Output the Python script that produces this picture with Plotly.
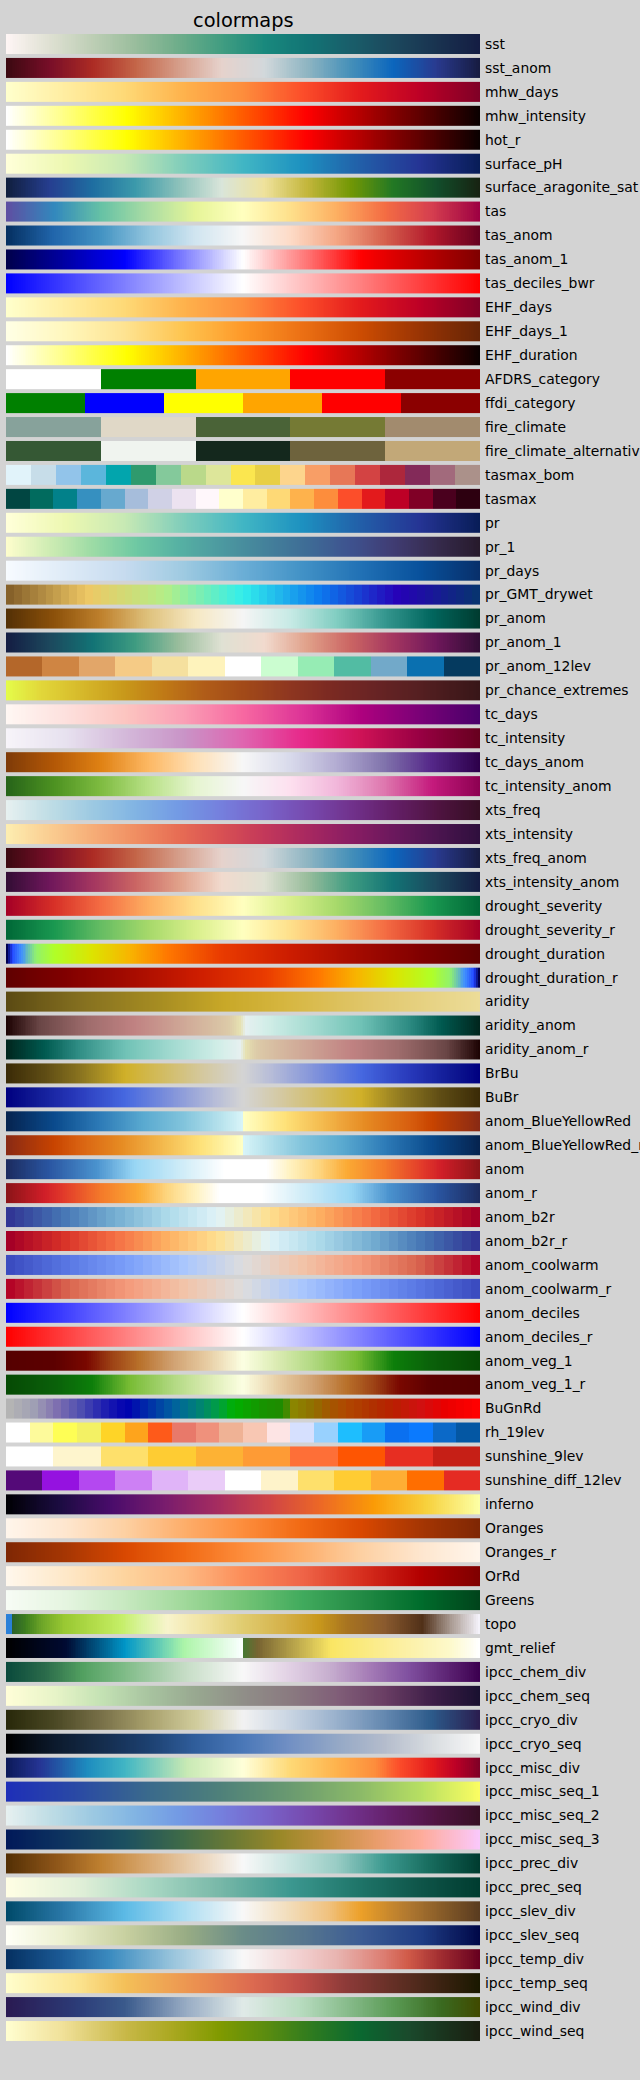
import numpy as np
import plotly.graph_objects as go

# ---------------- data ----------------
names = ["sst", "sst_anom", "mhw_days", "mhw_intensity", "hot_r", "surface_pH",
         "surface_aragonite_sat", "tas", "tas_anom", "tas_anom_1", "tas_deciles_bwr",
         "EHF_days", "EHF_days_1", "EHF_duration", "AFDRS_category", "ffdi_category",
         "fire_climate", "fire_climate_alternative", "tasmax_bom", "tasmax", "pr", "pr_1",
         "pr_days", "pr_GMT_drywet", "pr_anom", "pr_anom_1", "pr_anom_12lev",
         "pr_chance_extremes", "tc_days", "tc_intensity", "tc_days_anom", "tc_intensity_anom",
         "xts_freq", "xts_intensity", "xts_freq_anom", "xts_intensity_anom",
         "drought_severity", "drought_severity_r", "drought_duration", "drought_duration_r",
         "aridity", "aridity_anom", "aridity_anom_r", "BrBu", "BuBr", "anom_BlueYellowRed",
         "anom_BlueYellowRed_r", "anom", "anom_r", "anom_b2r", "anom_b2r_r", "anom_coolwarm",
         "anom_coolwarm_r", "anom_deciles", "anom_deciles_r", "anom_veg_1", "anom_veg_1_r",
         "BuGnRd", "rh_19lev", "sunshine_9lev", "sunshine_diff_12lev", "inferno", "Oranges",
         "Oranges_r", "OrRd", "Greens", "topo", "gmt_relief", "ipcc_chem_div", "ipcc_chem_seq",
         "ipcc_cryo_div", "ipcc_cryo_seq", "ipcc_misc_div", "ipcc_misc_seq_1", "ipcc_misc_seq_2",
         "ipcc_misc_seq_3", "ipcc_prec_div", "ipcc_prec_seq", "ipcc_slev_div", "ipcc_slev_seq",
         "ipcc_temp_div", "ipcc_temp_seq", "ipcc_wind_div", "ipcc_wind_seq"]

hot_r = [[0, '#ffffff'], [0.254, '#ffff00'], [0.635, '#ff0000'], [1, '#0b0000']]
seismic = [[0, '#00004c'], [0.25, '#0000ff'], [0.5, '#ffffff'], [0.75, '#ff0000'], [1, '#800000']]
bwr = [[0, '#0000ff'], [0.5, '#ffffff'], [1, '#ff0000']]
coolwarm = [[0, '#3b4cc0'], [0.125, '#5a78e4'], [0.25, '#7b9ff9'], [0.375, '#aac7fd'],
            [0.5, '#dddddd'], [0.625, '#f2c4a9'], [0.75, '#f49a7b'], [0.875, '#d9664f'],
            [1, '#b40426']]
rdylbu10 = ['#313695', '#4575b4', '#74add1', '#abd9e9', '#e0f3f8',
            '#fee090', '#fdae61', '#f46d43', '#d73027', '#a50026']

AFDRS_category = ['#ffffff', '#008000', '#ffa500', '#ff0000', '#8b0000']
ffdi_category = ['#008000', '#0000ff', '#ffff00', '#ffa500', '#ff0000', '#8b0000']
fire_climate = ['#87a29b', '#e0d8c7', '#4a6337', '#757a34', '#a28b6e']
fire_climate_alternative = ['#355834', '#f0f4ef', '#14281d', '#6e633d', '#c2a878']
tasmax_bom = ['#e1f3fa', '#c7dde9', '#92c4ea', '#5bb6dc', '#02a5ad', '#2f9a6d', '#84c99b',
              '#bad98a', '#dde69a', '#fbe64f', '#e8cf45', '#fdd58d', '#f89e66', '#e77757',
              '#d34343', '#ad273c', '#832a59', '#a26a7c', '#ab918a']
tasmax = ['#014642', '#016b5e', '#02818a', '#3690c0', '#67a9cf', '#a6bddb', '#d0d1e6',
          '#ece2f0', '#fff7fb', '#ffffcc', '#ffeda0', '#fed976', '#feb24c', '#fd8d3c',
          '#fc4e2a', '#e31a1c', '#bd0026', '#800026', '#4a001e', '#2d0010']
pr_GMT_drywet = [[0, '#86612a'], [1/6, '#eec764'], [2/6, '#b4ee87'], [3/6, '#32eeeb'],
                 [4/6, '#0c78ee'], [5/6, '#2601b7'], [1, '#083371']]
pr_anom_12lev = ['#b4672a', '#cf8543', '#e2a669', '#f5cb86', '#f5e09e', '#fef3bc', '#ffffff',
                 '#cbfdd0', '#96ecb4', '#52bca3', '#72a9c9', '#0a70b0', '#053a5f']
pr_chance_extremes = [[0, '#e4fb4a'], [0.07, '#e2d83a'], [0.16, '#d6b82a'], [0.25, '#c8981a'],
                      [0.33, '#c07a16'], [0.42, '#b05c18'], [0.5, '#a24a18'], [0.6, '#8e3620'],
                      [0.68, '#7c2a22'], [0.77, '#6a2424'], [0.86, '#582022'], [1, '#381618']]
drought_duration = [[0, '#000050'], [0.01, '#2040ff'], [0.03, '#4090ff'], [0.06, '#90f070'],
                    [0.1, '#b0ff28'], [0.18, '#dce400'], [0.26, '#f8b400'], [0.34, '#ff7800'],
                    [0.45, '#ea3c00'], [0.6, '#cc1c00'], [0.75, '#a20a00'], [0.88, '#800000'],
                    [1, '#600000']]
aridity = [[0, '#5b4a13'], [0.16, '#857020'], [0.33, '#a88e22'], [0.46, '#c8a828'],
           [0.59, '#d6b640'], [0.76, '#e0c66a'], [1, '#ecdc98']]
aridity_anom = [[0, '#1e0404'], [0.07, '#6a4646'], [0.17, '#9e6c6c'], [0.27, '#c08282'],
                [0.38, '#d0aa98'], [0.47, '#dccaa8'], [0.495, '#e6e2b2'], [0.505, '#e6f0f0'],
                [0.55, '#d2eee8'], [0.65, '#a2dad0'], [0.75, '#70c2b6'], [0.85, '#2e8c84'],
                [0.92, '#005a50'], [1, '#00261e']]
BrBu = [[0, '#3b2b07'], [0.08, '#5e4c14'], [0.16, '#8c7620'], [0.25, '#d0b028'],
        [0.33, '#d2bc62'], [0.42, '#d4c9a2'], [0.5, '#d4d4d4'], [0.56, '#b6bcd8'],
        [0.64, '#8898da'], [0.75, '#4668e0'], [0.86, '#2636b8'], [0.94, '#101a94'],
        [1, '#000080']]
anom_BlueYellowRed = [[0, '#062450'], [0.1, '#0a4a8c'], [0.2, '#2e7cb8'], [0.29, '#5aaad0'],
                      [0.375, '#82c4dc'], [0.46, '#bce5ee'], [0.499, '#d8f4f8'],
                      [0.501, '#ffffc4'], [0.59, '#fee178'], [0.68, '#f2b448'],
                      [0.76, '#e68a22'], [0.85, '#d86010'], [0.9, '#c84400'], [1, '#8a2a14']]
anom = [[0, '#1c2c60'], [0.09, '#2a56a2'], [0.19, '#4a92ce'], [0.27, '#98d6f4'],
        [0.38, '#d4eef8'], [0.46, '#ffffff'], [0.55, '#ffffff'], [0.6, '#fff2c0'],
        [0.66, '#fdd680'], [0.72, '#fbaa34'], [0.8, '#f47a2a'], [0.88, '#e23a2a'],
        [0.92, '#d01e28'], [1, '#8c1418']]
anom_veg_1 = [[0, '#560000'], [0.1, '#5c0000'], [0.17, '#7a0800'], [0.22, '#9c4014'],
              [0.28, '#b8702a'], [0.35, '#d0a070'], [0.42, '#e6caa0'], [0.5, '#fcffe2'],
              [0.57, '#dcecb4'], [0.65, '#b0d880'], [0.74, '#78bc34'], [0.82, '#0c7e0a'],
              [0.9, '#0a600a'], [1, '#064a04']]
BuGnRd = [[0, '#b4b4b4'], [0.05, '#a0a0b4'], [0.1, '#8070b0'], [0.15, '#5050b0'],
          [0.2, '#2020b0'], [0.25, '#0000b0'], [0.3, '#0030a8'], [0.35, '#0060a0'],
          [0.4, '#00807a'], [0.45, '#00a040'], [0.48, '#00b000'], [0.55, '#1a9000'],
          [0.59, '#208a00'], [0.6, '#8a8a00'], [0.65, '#907000'], [0.68, '#a05a00'],
          [0.72, '#b04800'], [0.78, '#b03000'], [0.82, '#b82000'], [0.88, '#d01010'],
          [0.93, '#e80000'], [1, '#ff0000']]
rh_19lev = ['#ffffff', '#fdfa9b', '#fefe55', '#f3f164', '#fed427', '#fea41c', '#fe5a1a',
            '#e8796a', '#ef917c', '#efb295', '#f8c7b3', '#fde4e4', '#d6e0fe', '#98d1fe',
            '#1ebefe', '#189cf6', '#0a70f0', '#0b7afe', '#0b69c8', '#0457a3']
sunshine_9lev = ['#ffffff', '#fef5cd', '#fee06b', '#fecc33', '#fdb234', '#fe9b35', '#fe6f37',
                 '#fe5502', '#e72e22', '#c61f16']
sunshine_diff_12lev = ['#540a78', '#9512e0', '#b448f0', '#cd80f4', '#e0b4f8', '#eaccf8',
                       '#ffffff', '#fef3ca', '#fee06b', '#ffcc33', '#feae34', '#ff6e00',
                       '#e52b23']
topo = [[0, '#2a80d8'], [0.008, '#2a80d8'], [0.009, '#2a5e2c'], [0.04, '#3e7e1e'],
        [0.075, '#6ea628'], [0.12, '#98c832'], [0.19, '#b4de4c'], [0.24, '#c4ee66'],
        [0.29, '#dcf4a2'], [0.34, '#f8f4cc'], [0.42, '#f0e2a0'], [0.5, '#e0cc70'],
        [0.59, '#d4b048'], [0.66, '#c8981c'], [0.72, '#a87420'], [0.8, '#8a5a2e'],
        [0.88, '#503018'], [0.935, '#a29288'], [1, '#f4f2fa']]
gmt_relief = [[0, '#000000'], [0.0625, '#000519'], [0.125, '#000a32'], [0.1875, '#00507d'],
              [0.25, '#0096c8'], [0.3125, '#56c5b8'], [0.375, '#acf5a8'], [0.4375, '#d3fad3'],
              [0.499, '#faffff'], [0.501, '#467832'], [0.53125, '#786432'], [0.5625, '#927e3c'],
              [0.625, '#c6b250'], [0.6875, '#fae664'], [0.75, '#faea7e'], [0.8125, '#fcee98'],
              [0.875, '#fcf3b1'], [0.9375, '#fdf9ca'], [1, '#ffffff']]
ipcc_chem_div = [[0, '#0a4a3c'], [0.08, '#2a6a4a'], [0.16, '#52a060'], [0.25, '#80bc88'],
                 [0.375, '#c4dcc4'], [0.5, '#f8f8f8'], [0.59, '#e4d4e6'], [0.68, '#c8b0d0'],
                 [0.76, '#a880b8'], [0.85, '#8050a0'], [0.94, '#5a2070'], [1, '#3c0050']]
ipcc_chem_seq = [[0, '#fffed8'], [0.1, '#e8f4c8'], [0.2, '#c4e2b4'], [0.3, '#a8c4a0'],
                 [0.4, '#98a890'], [0.5, '#908e88'], [0.6, '#8a7a80'], [0.7, '#805e78'],
                 [0.8, '#6a3e64'], [0.9, '#3e1e48'], [1, '#1a1030']]
ipcc_cryo_div = [[0, '#28280a'], [0.1, '#4a4824'], [0.2, '#787048'], [0.3, '#a8a06c'],
                 [0.4, '#d0cc9c'], [0.5, '#f2f2f2'], [0.6, '#c8d4e2'], [0.7, '#98b0cc'],
                 [0.8, '#6488b0'], [0.9, '#2c5a8a'], [1, '#2a1e50']]
ipcc_cryo_seq = [[0, '#000000'], [0.1, '#0c1a2c'], [0.2, '#142c4c'], [0.3, '#1c4070'],
                 [0.4, '#305e9c'], [0.5, '#4a78b8'], [0.6, '#7290c4'], [0.7, '#94a8c6'],
                 [0.8, '#b4bccc'], [0.9, '#d8dce0'], [1, '#f8f8f8']]
ipcc_misc_div = [[0, '#0c1a5a'], [0.07, '#253494'], [0.17, '#1d8cbf'], [0.25, '#41b6c4'],
                 [0.38, '#c7e9b4'], [0.5, '#ffffd9'], [0.6, '#fed976'], [0.7, '#feb24c'],
                 [0.78, '#fd8d3c'], [0.83, '#fc4e2a'], [0.9, '#e31a1c'], [0.95, '#bd0026'],
                 [1, '#800026']]
ipcc_misc_seq_1 = [[0, '#1e2fb8'], [0.15, '#2a4aa4'], [0.3, '#3a6a8c'], [0.45, '#4e807a'],
                   [0.6, '#6a9a70'], [0.75, '#8cba68'], [0.88, '#b8e062'], [1, '#fafd62']]
ipcc_misc_seq_3 = [[0, '#011959'], [0.12, '#0e3460'], [0.25, '#1c5060'], [0.37, '#3e6a48'],
                   [0.48, '#6c7a34'], [0.58, '#9a8828'], [0.68, '#c49040'], [0.78, '#e89c6a'],
                   [0.88, '#feac9c'], [1, '#fac8fa']]
ipcc_prec_div = [[0, '#543005'], [0.1, '#8c5418'], [0.2, '#bf8030'], [0.3, '#d8a870'],
                 [0.42, '#ecd8c0'], [0.5, '#f8f8f8'], [0.6, '#c8e4e0'], [0.7, '#98ccc4'],
                 [0.8, '#3c9a90'], [0.9, '#166a5c'], [1, '#003c30']]
ipcc_prec_seq = [[0, '#fffee4'], [0.15, '#e2f0d8'], [0.3, '#aad8c4'], [0.45, '#78b8a8'],
                 [0.6, '#3c9890'], [0.75, '#1e7468'], [0.88, '#0e5448'], [1, '#003c30']]
ipcc_slev_div = [[0, '#004a6a'], [0.12, '#2a78a8'], [0.25, '#5cbae6'], [0.37, '#a8dcf2'],
                 [0.5, '#f8f8f8'], [0.6, '#f2dcb8'], [0.68, '#f0c280'], [0.75, '#eca028'],
                 [0.85, '#b07830'], [1, '#5a3c20']]
ipcc_slev_seq = [[0, '#fffff6'], [0.12, '#ecf0d0'], [0.25, '#c8d0a0'], [0.38, '#98ac84'],
                 [0.5, '#6a8c88'], [0.62, '#58788e'], [0.75, '#3c5c94'], [0.88, '#1e3c84'],
                 [1, '#000848']]
ipcc_temp_div = [[0, '#053061'], [0.12, '#1c5c98'], [0.22, '#3c8cc0'], [0.35, '#98c4dc'],
                 [0.5, '#f8f8f8'], [0.62, '#f2d0d0'], [0.7, '#e8b4b0'], [0.8, '#dc7c70'],
                 [0.85, '#d05a48'], [0.92, '#a02c30'], [1, '#67001f']]
ipcc_temp_seq = [[0, '#fffecc'], [0.15, '#fbe490'], [0.25, '#f4c058'], [0.4, '#eb9050'],
                 [0.52, '#dc6a50'], [0.62, '#c04e48'], [0.72, '#8c3a38'], [0.85, '#582c20'],
                 [1, '#1a1800']]
ipcc_wind_div = [[0, '#2a1a52'], [0.15, '#2c3c78'], [0.25, '#3a5a8c'], [0.38, '#98acc4'],
                 [0.5, '#e0eae8'], [0.62, '#b8dcc0'], [0.72, '#88bc8c'], [0.82, '#5a9a54'],
                 [0.92, '#3a6a20'], [1, '#404a00']]
ipcc_wind_seq = [[0, '#fffed0'], [0.12, '#f0e098'], [0.25, '#c8b848'], [0.35, '#aaa820'],
                 [0.45, '#809a00'], [0.55, '#5a8c10'], [0.65, '#2c7a20'], [0.75, '#0a6830'],
                 [0.85, '#1a4a2c'], [1, '#1a1e10']]


def rev(stops):
    return [[1 - p, c] for p, c in reversed(stops)]


def even(cols):
    n = len(cols)
    return [[i / (n - 1), c] for i, c in enumerate(cols)]


# (colour scale, kind, number of columns) per row, same order as names
S, L = 'smooth', 'listed'
rows = [
    ('tempo', S, 256), ('balance_r', S, 256), ('YlOrRd', S, 256), (hot_r, S, 256),
    (hot_r, S, 256), ('YlGnBu', S, 256), ('delta', S, 256), ('Spectral_r', S, 256),
    ('RdBu_r', S, 256), (seismic, S, 256), (bwr, S, 256), ('YlOrRd', S, 256),
    ('YlOrBr', S, 256), (hot_r, S, 256), (AFDRS_category, L, 0), (ffdi_category, L, 0),
    (fire_climate, L, 0), (fire_climate_alternative, L, 0), (tasmax_bom, L, 0),
    (tasmax, L, 0), ('YlGnBu', S, 256), ('deep', S, 256), ('Blues', S, 256),
    (pr_GMT_drywet, S, 60), ('BrBG', S, 256), ('curl', S, 256), (pr_anom_12lev, L, 0),
    (pr_chance_extremes, S, 256), ('RdPu', S, 256), ('PuRd', S, 256), ('PuOr', S, 256),
    ('PiYG_r', S, 256), ('dense', S, 256), ('matter', S, 256), ('balance_r', S, 256),
    ('curl_r', S, 256), ('RdYlGn', S, 256), ('RdYlGn_r', S, 256), (drought_duration, S, 256),
    (rev(drought_duration), S, 256), (aridity, S, 256), (aridity_anom, S, 256),
    (rev(aridity_anom), S, 256), (BrBu, S, 256), (rev(BrBu), S, 256),
    (anom_BlueYellowRed, S, 256), (rev(anom_BlueYellowRed), S, 256), (anom, S, 256),
    (rev(anom), S, 256), (even(rdylbu10), S, 52), (rev(even(rdylbu10)), S, 52),
    (coolwarm, S, 52), (rev(coolwarm), S, 52), (bwr, S, 256), (rev(bwr), S, 256),
    (anom_veg_1, S, 256), (rev(anom_veg_1), S, 256), (BuGnRd, S, 60), (rh_19lev, L, 0),
    (sunshine_9lev, L, 0), (sunshine_diff_12lev, L, 0), ('Inferno', S, 256),
    ('Oranges', S, 256), ('Oranges_r', S, 256), ('OrRd', S, 256), ('Greens', S, 256),
    (topo, S, 256), (gmt_relief, S, 256), (ipcc_chem_div, S, 256), (ipcc_chem_seq, S, 256),
    (ipcc_cryo_div, S, 256), (ipcc_cryo_seq, S, 256), (ipcc_misc_div, S, 256),
    (ipcc_misc_seq_1, S, 256), ('dense', S, 256), (ipcc_misc_seq_3, S, 256),
    (ipcc_prec_div, S, 256), (ipcc_prec_seq, S, 256), (ipcc_slev_div, S, 256),
    (ipcc_slev_seq, S, 256), (ipcc_temp_div, S, 256), (ipcc_temp_seq, S, 256),
    (ipcc_wind_div, S, 256), (ipcc_wind_seq, S, 256),
]

# ---------------- layout constants ----------------
W, H = 640, 2080
BG = '#d3d3d3'
x_left, x_right = 6, 480          # px
top0, pitch, bar_h = 34.0, 23.94, 19.7
n = len(names)
half = bar_h / pitch / 2
y_top_px = top0 + bar_h / 2 - 0.5 * pitch
y_bot_px = y_top_px + n * pitch

fig = go.Figure()
for i, (name, (scale, kind, ncol)) in enumerate(zip(names, rows)):
    if kind == L:
        k = len(scale)
        cs = []
        for j, c in enumerate(scale):
            cs += [[j / k, c], [(j + 1) / k, c]]
        z = [(j + 0.5) / k for j in range(k)]
        ncol = k
    else:
        cs = scale
        z = list(np.linspace(0, 1, ncol))
    fig.add_trace(go.Heatmap(
        x=list(np.linspace(0, 1, ncol + 1)), y=[i - half, i + half], z=[z],
        colorscale=cs, zmin=0, zmax=1, showscale=False, hoverinfo='skip'))

annotations = [dict(text=nm, x=(x_right + 3) / W, xref='paper', xanchor='left',
                    y=i, yref='y', yanchor='middle', showarrow=False,
                    font=dict(family='DejaVu Sans', size=13.9, color='#000000'))
               for i, nm in enumerate(names)]
annotations.append(dict(text='colormaps', x=(x_left + x_right) / 2 / W, xref='paper',
                        xanchor='center', y=1 - 20.5 / H, yref='paper', yanchor='middle',
                        showarrow=False,
                        font=dict(family='DejaVu Sans', size=19.4, color='#000000')))

fig.update_layout(
    width=W, height=H, margin=dict(l=0, r=0, t=0, b=0),
    paper_bgcolor=BG, plot_bgcolor=BG, showlegend=False,
    xaxis=dict(domain=[x_left / W, x_right / W], range=[0, 1], visible=False, fixedrange=True),
    yaxis=dict(domain=[1 - y_bot_px / H, 1 - y_top_px / H], range=[n - 0.5, -0.5],
               visible=False, fixedrange=True),
    annotations=annotations,
)

fig.write_html("out.html", config={'displayModeBar': False},
               post_script="document.body.style.margin='0';"
                           "document.body.style.overflow='hidden';"
                           "document.documentElement.style.overflow='hidden';")
